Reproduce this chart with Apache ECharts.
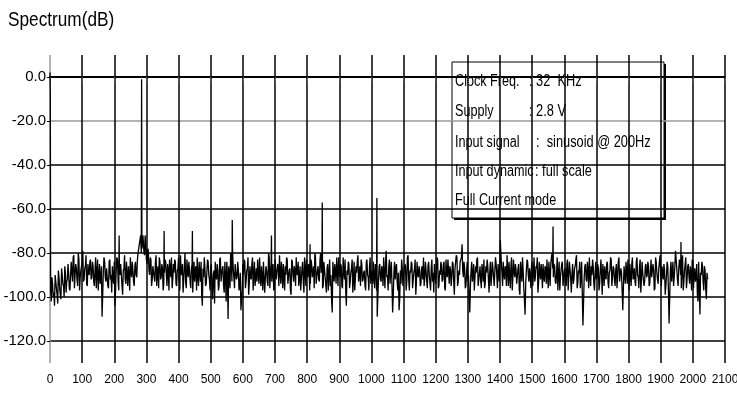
<!DOCTYPE html>
<html>
<head>
<meta charset="utf-8">
<title>Spectrum(dB)</title>
<script src="https://cdn.jsdelivr.net/npm/echarts@6.0.0/dist/echarts.min.js"></script>
<style>
	html,body{margin:0;padding:0;background:#fff;}
	#main{width:737px;height:397px;}
</style>
</head>
<body>
<div id="main"></div>
<script>
// noise floor (dB), two interleaved sets, one value every 4 bins each
var noiseA_start = 2;
var noiseB_start = 4;
var noiseStep = 4;
var noiseA = [
	-97,-91,-100,-104,-93,-99,-88,-96,-101,-90,-95,-86,-98,-92,-89,-97,
	-84,-93,-81,-90,-87,-95,-83,-91,-88,-79,-92,-86,-94,-85,-90,-83,
	-91,-86,-95,-82,-89,-97,-85,-92,-109,-88,-84,-93,-87,-96,-83,-90,
	-86,-94,-104,-88,-83,-97,-90,-85,-99,-87,-92,-84,-95,-89,-82,-91,
	-88,-95,-84,-91,-80,-76,-72,-78,-74,-81,-77,-85,-79,-90,-83,-92,
	-86,-93,-81,-89,-96,-84,-91,-87,-94,-83,-90,-85,-97,-88,-82,-92,
	-89,-84,-95,-87,-92,-81,-90,-98,-86,-93,-83,-91,-88,-96,-85,-90,
	-93,-86,-82,-95,-89,-84,-104,-91,-87,-94,-83,-90,-97,-85,-101,-88,
	-84,-92,-88,-95,-82,-90,-86,-98,-91,-84,-110,-89,-80,-93,-87,-96,
	-85,-91,-88,-95,-106,-97,-90,-84,-93,-87,-99,-86,-92,-82,-89,-95,
	-87,-83,-94,-90,-86,-97,-84,-91,-88,-95,-82,-89,-93,-85,-96,-88,
	-92,-86,-81,-94,-89,-85,-97,-90,-83,-91,-87,-99,-84,-93,-88,-82,
	-90,-95,-86,-92,-84,-98,-88,-83,-91,-87,-94,-85,-89,-96,-82,-91,
	-86,-93,-80,-88,-95,-84,-91,-87,-97,-83,-90,-107,-89,-85,-94,-88,
	-82,-91,-86,-96,-88,-83,-104,-90,-85,-93,-87,-98,-84,-92,-89,-81,
	-90,-95,-85,-92,-88,-97,-83,-91,-86,-94,-89,-84,-96,-87,-109,-92,
	-85,-93,-88,-82,-96,-79,-90,-86,-94,-84,-107,-89,-92,-85,-97,-106,
	-88,-83,-95,-90,-86,-93,-81,-97,-89,-85,-92,-87,-99,-84,-91,-88,
	-94,-86,-82,-91,-88,-96,-84,-90,-87,-93,-98,-85,-89,-83,-95,-90,
	-86,-92,-84,-97,-89,-83,-94,-88,-91,-85,-99,-87,-82,-93,-90,-84,
	-76,-91,-87,-95,-84,-90,-107,-88,-93,-85,-97,-89,-82,-92,-86,-96,
	-88,-83,-94,-89,-86,-98,-84,-91,-87,-95,-82,-90,-85,-93,-78,-89,
	-84,-92,-87,-81,-95,-90,-86,-97,-83,-91,-88,-94,-85,-99,-89,-82,
	-96,-108,-88,-84,-93,-90,-86,-95,-82,-91,-87,-98,-84,-92,-89,-85,
	-93,-87,-83,-96,-89,-85,-80,-91,-86,-94,-82,-90,-97,-88,-84,-92,
	-87,-95,-83,-90,-88,-98,-85,-92,-86,-81,-94,-89,-96,-84,-113,-91,
	-85,-93,-88,-82,-95,-90,-86,-97,-84,-91,-87,-94,-83,-99,-89,-86,
	-92,-84,-96,-88,-83,-91,-87,-95,-85,-90,-82,-93,-89,-106,-86,-94,
	-88,-83,-97,-90,-85,-92,-87,-95,-82,-91,-86,-98,-84,-89,-93,-85,
	-90,-86,-94,-83,-91,-88,-96,-84,-92,-87,-81,-95,-89,-85,-99,-90,
	-86,-112,-88,-93,-84,-91,-79,-87,-95,-83,-90,-86,-97,-88,-82,-92,
	-85,-94,-89,-83,-96,-87,-91,-99,-84,-108,-90,-86,-97,-88,-101,-92
];
var noiseB = [
	-102,-94,-98,-90,-96,-103,-91,-99,-87,-94,-100,-89,-93,-85,-96,-90,
	-89,-82,-96,-85,-92,-80,-97,-88,-84,-93,-87,-81,-95,-89,-84,-92,
	-84,-93,-88,-96,-83,-90,-94,-86,-99,-82,-91,-87,-95,-84,-92,-98,
	-91,-84,-97,-82,-93,-87,-85,-95,-88,-81,-94,-90,-86,-97,-88,-84,
	-93,-86,-90,-83,-78,-74,-80,-75,-79,-72,-83,-78,-88,-82,-95,-86,
	-91,-84,-95,-86,-82,-92,-85,-97,-89,-84,-95,-88,-83,-91,-96,-85,
	-83,-94,-88,-82,-97,-89,-85,-92,-80,-96,-88,-84,-93,-87,-98,-84,
	-88,-97,-91,-84,-93,-99,-87,-82,-95,-89,-84,-92,-86,-96,-90,-103,
	-91,-85,-97,-83,-93,-87,-95,-84,-102,-90,-86,-96,-84,-79,-91,-85,
	-92,-84,-97,-89,-101,-85,-83,-96,-88,-82,-94,-91,-85,-97,-84,-91,
	-93,-89,-82,-95,-91,-84,-98,-86,-93,-80,-96,-84,-88,-97,-83,-92,
	-85,-95,-89,-84,-96,-91,-86,-82,-94,-88,-97,-83,-90,-86,-95,-89,
	-84,-91,-97,-87,-93,-82,-95,-89,-85,-97,-83,-91,-86,-80,-94,-88,
	-92,-83,-89,-96,-84,-91,-98,-85,-90,-95,-101,-84,-93,-88,-82,-95,
	-89,-85,-95,-82,-92,-97,-88,-84,-96,-89,-83,-92,-97,-86,-84,-93,
	-86,-83,-93,-89,-95,-84,-90,-97,-82,-88,-94,-91,-85,-97,-100,-86,
	-92,-86,-95,-89,-84,-91,-97,-83,-88,-95,-99,-84,-87,-93,-89,-101,
	-94,-87,-90,-85,-97,-82,-92,-88,-84,-96,-89,-83,-93,-90,-86,-95,
	-87,-92,-95,-84,-93,-86,-90,-97,-83,-89,-85,-94,-82,-96,-88,-84,
	-93,-85,-96,-83,-91,-88,-86,-95,-84,-93,-87,-81,-95,-88,-84,-82,
	-88,-84,-96,-89,-93,-101,-95,-84,-90,-97,-86,-83,-95,-89,-93,-85,
	-93,-96,-86,-83,-92,-89,-95,-84,-91,-88,-85,-96,-90,-82,-84,-95,
	-90,-86,-95,-88,-84,-96,-82,-91,-89,-85,-94,-87,-97,-84,-93,-88,
	-101,-94,-83,-90,-87,-96,-84,-89,-93,-86,-82,-94,-89,-85,-96,-91,
	-86,-94,-90,-84,-95,-82,-87,-85,-93,-89,-97,-84,-91,-85,-95,-88,
	-93,-85,-97,-84,-92,-89,-94,-87,-83,-96,-88,-84,-91,-98,-102,-86,
	-92,-84,-96,-90,-86,-83,-94,-89,-92,-85,-97,-88,-90,-85,-95,-91,
	-85,-93,-89,-82,-95,-86,-92,-88,-96,-84,-93,-87,-97,-95,-90,-84,
	-94,-89,-85,-95,-82,-91,-93,-84,-90,-96,-83,-92,-89,-95,-86,-91,
	-84,-95,-88,-91,-85,-97,-82,-89,-94,-84,-90,-86,-92,-88,-95,-84,
	-97,-100,-84,-89,-95,-86,-83,-92,-88,-84,-96,-81,-93,-85,-96,-86,
	-91,-86,-97,-84,-90,-93,-85,-102,-95,-89,-84,-93,-86,-96,-89
];
// DC, tone and harmonics [bin, dB]
var peaks = [
	[0,2],[1,-8],[215,-72],[281,-74],[285,-1],[289,-72],[355,-70],[443,-70],
	[567,-65],[689,-72],[809,-76],[847,-57],[1017,-55],[1401,-74],[1565,-68],[1963,-75]
];
var yLabelValues = [-120,-100,-80,-60,-40,-20,0];
var titleText = 'Spectrum(dB)';
var infoLabels = ['Clock Freq.','Supply','Input signal','Input dynamic','Full Current mode'];
var infoValues = [': 32  KHz',': 2.8 V',':  sinusoid @ 200Hz',': full scale',''];

var fnt = '"Liberation Sans",Arial,sans-serif';

var pts = [];
for(var i=0;i<noiseA.length;i++){
	pts.push([noiseA_start + i*noiseStep, noiseA[i]]);
}
for(var i=0;i<noiseB.length;i++){
	pts.push([noiseB_start + i*noiseStep, noiseB[i]]);
}
for(var j=0;j<peaks.length;j++){
	pts.push(peaks[j]);
}
pts.sort(function(a,b){return a[0]-b[0];});

//网格线颜色 (-80 和上边/左边是虚的灰线)
var xCols = [];
for(var k=0;k<=21;k++){ xCols.push(k==0 ? '#9a9a9a' : '#000'); }
var yCols = [];
for(var k=0;k<=14;k++){ yCols.push((k==5 || k==14) ? '#9a9a9a' : '#000'); }

// 标题 (窄字体)
var titleEl = {type:'text', x:8, y:20, scaleX:0.82, z:100,
	style:{text:titleText, font:'21px '+fnt, fill:'#000', verticalAlign:'middle'}};

// info box
var boxEls = [
	{type:'rect', shape:{x:454,y:64,width:212,height:156}, style:{fill:'#000'}},
	{type:'rect', shape:{x:452,y:62,width:212,height:156}, style:{fill:'#fff',stroke:'#000',lineWidth:1}}
];
var rowY = [82,112,143,172,201];
var valX = [529,529,536,535,535];
for(var r=0;r<infoLabels.length;r++){
	boxEls.push({type:'text', x:455, y:rowY[r], scaleX:0.79,
		style:{text:infoLabels[r], font:'16px '+fnt, fill:'#000', verticalAlign:'middle'}});
	if(infoValues[r]){
		boxEls.push({type:'text', x:valX[r], y:rowY[r], scaleX:0.8,
			style:{text:infoValues[r], font:'16px '+fnt, fill:'#000', verticalAlign:'middle'}});
	}
}

var myChart = echarts.init(document.getElementById('main'));
var option = {
	animation: false,
	backgroundColor: '#fff',
	textStyle: {fontFamily: fnt},
	grid: {left: 50, right: 12, top: 55, bottom: 34, outerBoundsMode: 'none'},
	xAxis: {
		type: 'value',
		min: 0,
		max: 2100,
		interval: 100,
		axisLine: {show: true, lineStyle: {color: '#000', width: 2}},
		axisTick: {show: true, length: 7, lineStyle: {color: '#666', type: 'dotted'}},
		axisLabel: {
			fontSize: 12,
			color: '#000',
			margin: 11,
			fontFamily: fnt,
			formatter: function(v){ return '' + v; }
		},
		splitLine: {show: true, lineStyle: {color: xCols, width: 1.5}}
	},
	yAxis: {
		type: 'value',
		min: -130,
		max: 10,
		interval: 10,
		axisLine: {show: false},
		axisTick: {show: true, customValues: yLabelValues, length: 3, lineStyle: {color: '#000'}},
		axisLabel: {
			customValues: yLabelValues,
			fontSize: 15,
			color: '#000',
			margin: 4,
			fontFamily: fnt,
			formatter: function(v){ return v.toFixed(1); }
		},
		splitLine: {show: true, lineStyle: {color: yCols, width: 1.5}}
	},
	series: [{
		type: 'line',
		data: pts,
		symbol: 'none',
		showSymbol: false,
		lineStyle: {color: '#000', width: 1.3},
		z: 3
	}],
	graphic: {elements: [titleEl, {type: 'group', z: 100, children: boxEls}]}
};
myChart.setOption(option);
</script>
</body>
</html>
